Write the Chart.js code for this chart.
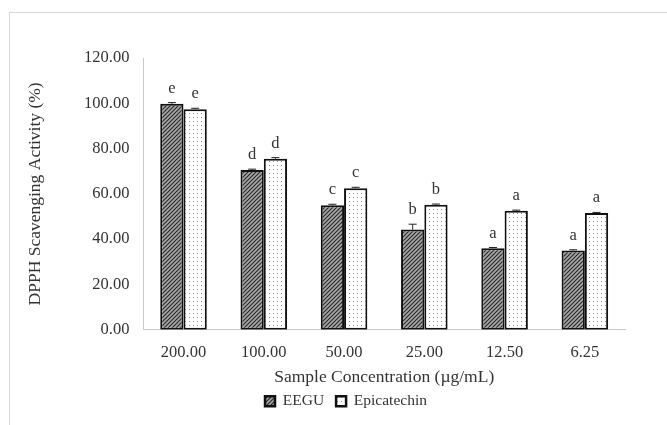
<!DOCTYPE html>
<html>
<head>
<meta charset="utf-8">
<script src="https://cdn.jsdelivr.net/npm/chart.js@4/dist/chart.umd.min.js"></script>
<style>
  html, body { margin: 0; padding: 0; background: #fff; }
  #wrap { position: relative; width: 667px; height: 425px; }
  #frame { position: absolute; left: 9px; top: 12px; width: 700px; height: 500px; border: 1px solid #d9d9d9; box-sizing: border-box; }
</style>
</head>
<body>
<div id="wrap">
  <div id="frame"></div>
  <canvas id="dpph" width="667" height="425"></canvas>
</div>
<script>
var concentrations = ["200.00", "100.00", "50.00", "25.00", "12.50", "6.25"];
var eeguValues = [99.8, 70.5, 55.0, 44.2, 36.0, 35.0];
var eeguErrors = [0.5, 0.4, 0.4, 2.4, 0.3, 0.3];
var eeguLetters = ["e", "d", "c", "b", "a", "a"];
var epiValues = [97.4, 75.5, 62.5, 55.2, 52.5, 51.5];
var epiErrors = [0.4, 0.5, 0.4, 0.3, 0.3, 0.3];
var epiLetters = ["e", "d", "c", "b", "a", "a"];
var yTicks = [0, 20, 40, 60, 80, 100, 120];

var serif = "'Liberation Serif', 'DejaVu Serif', serif";

function hatchPattern() {
    var c = document.createElement('canvas');
    c.width = 4; c.height = 4;
    var g = c.getContext('2d');
    g.fillStyle = '#a8a8a8';
    g.fillRect(0, 0, 4, 4);
    g.strokeStyle = '#2a2a2a';
    g.lineWidth = 1.2;
    g.beginPath();
    g.moveTo(-1, 5); g.lineTo(5, -1);
    g.moveTo(-1, 1); g.lineTo(1, -1);
    g.moveTo(3, 5); g.lineTo(5, 3);
    g.stroke();
    return g.createPattern(c, 'repeat');
}

function dotPattern() {
    var c = document.createElement('canvas');
    c.width = 4; c.height = 4;
    var g = c.getContext('2d');
    g.fillStyle = '#ffffff';
    g.fillRect(0, 0, 4, 4);
    g.fillStyle = '#8a8a8a';
    g.fillRect(1, 1, 1, 1);
    return g.createPattern(c, 'repeat');
}

// error bars + significance letters
var errorPlugin = {
    id: 'errorLetters',
    afterLayout: function(chart) {
        // legend sits a bit right of centre in the original
        chart.legend.left += 21;
        chart.legend.right += 21;
    },
    afterDatasetsDraw: function(chart) {
        var ctx = chart.ctx;
        var y = chart.scales.y;
        var errs = [eeguErrors, epiErrors];
        var letters = [eeguLetters, epiLetters];
        ctx.save();
        chart.data.datasets.forEach(function(ds, di) {
            var meta = chart.getDatasetMeta(di);
            meta.data.forEach(function(bar, i) {
                var v = ds.data[i];
                var top = y.getPixelForValue(v + errs[di][i]);
                ctx.strokeStyle = '#222';
                ctx.lineWidth = 1;
                ctx.beginPath();
                ctx.moveTo(bar.x, bar.y);
                ctx.lineTo(bar.x, top);
                ctx.moveTo(bar.x - 4, top);
                ctx.lineTo(bar.x + 4, top);
                ctx.stroke();
                ctx.fillStyle = '#333';
                ctx.font = '16.5px ' + serif;
                ctx.textAlign = 'center';
                ctx.textBaseline = 'alphabetic';
                ctx.fillText(letters[di][i], bar.x, top - 10);
            });
        });
        ctx.restore();
    }
};

var dpph = document.getElementById("dpph").getContext('2d');
var dpphChart = new Chart(dpph, {
    type: 'bar',
    data: {
        labels: concentrations,
        datasets: [{
            label: 'EEGU',
            data: eeguValues,
            backgroundColor: hatchPattern(),
            borderColor: '#111',
            borderWidth: 2,
            borderSkipped: false
        }, {
            label: 'Epicatechin',
            data: epiValues,
            backgroundColor: dotPattern(),
            borderColor: '#111',
            borderWidth: 2,
            borderSkipped: false
        }]
    },
    options: {
        responsive: false,
        animation: false,
        layout: { padding: { left: 25, right: 42, top: 58, bottom: 6 } },
        datasets: { bar: { categoryPercentage: 0.58, barPercentage: 1.0 } },
        scales: {
            x: {
                grid: { display: false, drawTicks: false },
                border: { display: true, color: '#c8c8c8', width: 1 },
                ticks: { color: '#333', font: { family: serif, size: 16.5 }, padding: 13 },
                title: {
                    display: true,
                    text: 'Sample Concentration (µg/mL)',
                    color: '#333',
                    font: { family: serif, size: 17.5 },
                    padding: { top: -9, bottom: -6 }
                }
            },
            y: {
                min: 0,
                max: 120,
                afterBuildTicks: function(axis) {
                    axis.ticks = yTicks.map(function(v) { return { value: v }; });
                },
                grid: { display: false, drawTicks: false },
                border: { display: true, color: '#c8c8c8', width: 1 },
                ticks: {
                    color: '#333',
                    font: { family: serif, size: 16.5 },
                    padding: 14,
                    callback: function(v) { return Number(v).toFixed(2); }
                },
                title: {
                    display: true,
                    text: 'DPPH Scavenging Activity (%)',
                    color: '#333',
                    font: { family: serif, size: 17.5 },
                    padding: { top: 0, bottom: 24 }
                }
            }
        },
        plugins: {
            legend: {
                position: 'bottom',
                labels: {
                    color: '#333',
                    font: { family: serif, size: 15.5 },
                    boxWidth: 10,
                    boxHeight: 10,
                    padding: 12,
                    generateLabels: function(chart) {
                        var items = Chart.defaults.plugins.legend.labels.generateLabels(chart);
                        items.forEach(function(it) { it.lineWidth = 2.5; });
                        return items;
                    }
                }
            },
            tooltip: { enabled: false }
        }
    },
    plugins: [errorPlugin]
});
</script>
</body>
</html>
